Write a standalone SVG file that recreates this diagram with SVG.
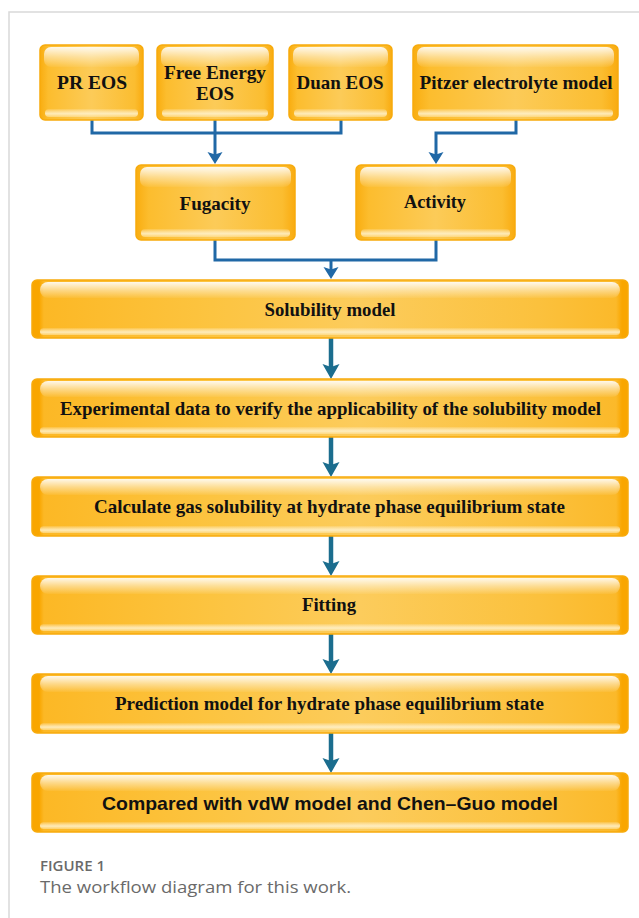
<svg xmlns="http://www.w3.org/2000/svg" width="639" height="918" viewBox="0 0 639 918">
<style>
.frame{stroke:#d9d9d9;stroke-width:1.5;fill:none}
.box{stroke:#f7ab0c;stroke-width:1.5}
.wide{fill:url(#fillWide)}
.small{fill:url(#fillSmall)}
.gloss{fill:url(#glossTop)}
.band{fill:url(#glossBot)}
.lbl{font-family:"Liberation Serif","Times New Roman",serif;font-weight:bold;fill:#111;text-anchor:middle}
.top{font-size:19px}
.main{font-size:19.5px}
.sans{font-family:"Liberation Sans",Arial,sans-serif;font-weight:bold;font-size:19px;fill:#111;text-anchor:middle}
.conn{fill:none;stroke:#2068a6;stroke-width:3}
.flow{fill:none;stroke:#1b6d8e;stroke-width:4.5}
.fig{font-family:"Open Sans","Noto Sans",sans-serif;fill:#6a6a6a}
</style>
<defs>
<linearGradient id="fillWide" x1="0" y1="0" x2="1" y2="0">
<stop offset="0" stop-color="#f9a600"/>
<stop offset="0.012" stop-color="#f9a600"/>
<stop offset="0.02" stop-color="#fcb825"/>
<stop offset="0.3" stop-color="#fcc440"/>
<stop offset="0.55" stop-color="#fccc5c"/>
<stop offset="0.85" stop-color="#fbc13d"/>
<stop offset="0.98" stop-color="#fbb92a"/>
<stop offset="0.99" stop-color="#f9a600"/>
<stop offset="1" stop-color="#f9a600"/>
</linearGradient>
<linearGradient id="fillSmall" x1="0" y1="0" x2="1" y2="0">
<stop offset="0" stop-color="#f9ad10"/>
<stop offset="0.08" stop-color="#fcbd2e"/>
<stop offset="0.5" stop-color="#fccb58"/>
<stop offset="0.92" stop-color="#fbbd30"/>
<stop offset="1" stop-color="#f9ab10"/>
</linearGradient>
<linearGradient id="glossTop" x1="0" y1="0" x2="0" y2="1">
<stop offset="0" stop-color="#ffffff" stop-opacity="0.9"/>
<stop offset="0.5" stop-color="#ffffff" stop-opacity="0.45"/>
<stop offset="1" stop-color="#ffffff" stop-opacity="0.05"/>
</linearGradient>
<linearGradient id="glossBot" x1="0" y1="0" x2="0" y2="1">
<stop offset="0" stop-color="#ffffff" stop-opacity="0.1"/>
<stop offset="0.6" stop-color="#fff3d0" stop-opacity="0.85"/>
<stop offset="1" stop-color="#ffe9b0" stop-opacity="0.5"/>
</linearGradient>
<marker id="arrBig" markerUnits="userSpaceOnUse" markerWidth="20" markerHeight="20" viewBox="-1 -10 18 20" refX="4" refY="0" orient="auto">
<path d="M0,-8.5 L15,0 L0,8.5 L3,0 z" fill="#1b6d8e"/>
</marker>
<marker id="arrSmall" markerUnits="userSpaceOnUse" markerWidth="18" markerHeight="18" viewBox="-1 -9 16 18" refX="3" refY="0" orient="auto">
<path d="M0,-7.5 L12,0 L0,7.5 L2.5,0 z" fill="#2068a6"/>
</marker>
</defs>
<rect width="639" height="918" fill="#ffffff"/>
<path class="frame" d="M9,918 V12 H639"/>

<g id="connectors">
<path class="conn" d="M92,120 V133 H341 V120"/>
<path class="conn" d="M215,120 V155" marker-end="url(#arrSmall)"/>
<path class="conn" d="M516,120 V133 H436 V155" marker-end="url(#arrSmall)"/>
<path class="conn" d="M215,240 V260 H436 V240"/>
<path class="conn" d="M331,260 V270" marker-end="url(#arrSmall)"/>
<path class="flow" d="M331,338 V368" marker-end="url(#arrBig)"/>
<path class="flow" d="M331,437 V466" marker-end="url(#arrBig)"/>
<path class="flow" d="M331,536 V565" marker-end="url(#arrBig)"/>
<path class="flow" d="M331,634 V663" marker-end="url(#arrBig)"/>
<path class="flow" d="M331,733 V762" marker-end="url(#arrBig)"/>
</g>

<g id="pr-eos">
<rect class="box small" x="40" y="45" width="103" height="75" rx="5"/>
<rect class="gloss" x="44" y="47" width="95" height="20" rx="7"/>
<rect class="band" x="45" y="109" width="93" height="8" rx="4"/>
<text class="lbl top" x="92" y="89" textLength="70" lengthAdjust="spacingAndGlyphs">PR EOS</text>
</g>
<g id="free-energy-eos">
<rect class="box small" x="157" y="45" width="116" height="75" rx="5"/>
<rect class="gloss" x="161" y="47" width="108" height="20" rx="7"/>
<rect class="band" x="162" y="109" width="106" height="8" rx="4"/>
<text class="lbl top" x="215" y="79" textLength="102" lengthAdjust="spacingAndGlyphs">Free Energy</text>
<text class="lbl top" x="215" y="100" textLength="38" lengthAdjust="spacingAndGlyphs">EOS</text>
</g>
<g id="duan-eos">
<rect class="box small" x="289" y="45" width="103" height="75" rx="5"/>
<rect class="gloss" x="293" y="47" width="95" height="20" rx="7"/>
<rect class="band" x="294" y="109" width="93" height="8" rx="4"/>
<text class="lbl top" x="340" y="89" textLength="87" lengthAdjust="spacingAndGlyphs">Duan EOS</text>
</g>
<g id="pitzer">
<rect class="box small" x="413" y="45" width="205" height="75" rx="5"/>
<rect class="gloss" x="417" y="47" width="197" height="20" rx="7"/>
<rect class="band" x="418" y="109" width="195" height="8" rx="4"/>
<text class="lbl top" x="516" y="89" textLength="193" lengthAdjust="spacingAndGlyphs">Pitzer electrolyte model</text>
</g>
<g id="fugacity">
<rect class="box small" x="136" y="165" width="159" height="75" rx="5"/>
<rect class="gloss" x="140" y="167" width="151" height="20" rx="7"/>
<rect class="band" x="141" y="229" width="149" height="8" rx="4"/>
<text class="lbl top" x="215" y="210" textLength="71" lengthAdjust="spacingAndGlyphs">Fugacity</text>
</g>
<g id="activity">
<rect class="box small" x="356" y="165" width="159" height="75" rx="5"/>
<rect class="gloss" x="360" y="167" width="151" height="20" rx="7"/>
<rect class="band" x="361" y="229" width="149" height="8" rx="4"/>
<text class="lbl top" x="435" y="208" textLength="62" lengthAdjust="spacingAndGlyphs">Activity</text>
</g>

<g id="solubility-model">
<rect class="box wide" x="32" y="280" width="596" height="58" rx="5"/>
<rect class="gloss" x="40" y="282" width="580" height="16" rx="8"/>
<rect class="band" x="40" y="328" width="580" height="7" rx="3.5"/>
<text class="lbl main" x="330" y="315.5" textLength="131" lengthAdjust="spacingAndGlyphs">Solubility model</text>
</g>
<g id="experimental-data">
<rect class="box wide" x="32" y="379" width="596" height="58" rx="5"/>
<rect class="gloss" x="40" y="381" width="580" height="16" rx="8"/>
<rect class="band" x="40" y="427" width="580" height="7" rx="3.5"/>
<text class="lbl main" x="330.5" y="414.5" textLength="541" lengthAdjust="spacingAndGlyphs">Experimental data to verify the applicability of the solubility model</text>
</g>
<g id="calculate-gas-solubility">
<rect class="box wide" x="32" y="477" width="596" height="59" rx="5"/>
<rect class="gloss" x="40" y="479" width="580" height="16" rx="8"/>
<rect class="band" x="40" y="526" width="580" height="7" rx="3.5"/>
<text class="lbl main" x="329.5" y="512.5" textLength="471" lengthAdjust="spacingAndGlyphs">Calculate gas solubility at hydrate phase equilibrium state</text>
</g>
<g id="fitting">
<rect class="box wide" x="32" y="576" width="596" height="58" rx="5"/>
<rect class="gloss" x="40" y="578" width="580" height="16" rx="8"/>
<rect class="band" x="40" y="624" width="580" height="7" rx="3.5"/>
<text class="lbl main" x="329" y="611" textLength="54" lengthAdjust="spacingAndGlyphs">Fitting</text>
</g>
<g id="prediction-model">
<rect class="box wide" x="32" y="674" width="596" height="59" rx="5"/>
<rect class="gloss" x="40" y="676" width="580" height="16" rx="8"/>
<rect class="band" x="40" y="723" width="580" height="7" rx="3.5"/>
<text class="lbl main" x="329.5" y="709.5" textLength="429" lengthAdjust="spacingAndGlyphs">Prediction model for hydrate phase equilibrium state</text>
</g>
<g id="compared">
<rect class="box wide" x="32" y="773" width="596" height="59" rx="5"/>
<rect class="gloss" x="40" y="775" width="580" height="16" rx="8"/>
<rect class="band" x="40" y="822" width="580" height="7" rx="3.5"/>
<text class="sans" x="330" y="810" textLength="456" lengthAdjust="spacingAndGlyphs">Compared with vdW model and Chen–Guo model</text>
</g>

<g id="caption">
<text class="fig" x="40" y="871" font-size="15" font-weight="600">FIGURE 1</text>
<text class="fig" x="40" y="893" font-size="17" fill="#777" textLength="311" lengthAdjust="spacingAndGlyphs">The workflow diagram for this work.</text>
</g>
</svg>
